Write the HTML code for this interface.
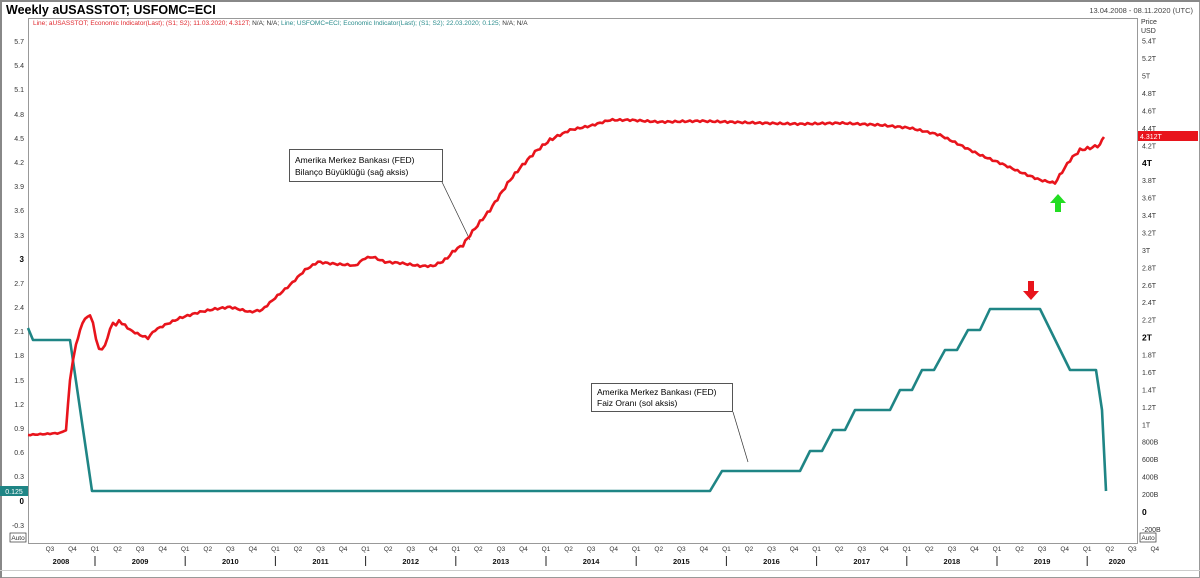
<!DOCTYPE html>
<html><head><meta charset="utf-8"><style>
body{margin:0;background:#fff;}
svg{display:block;font-family:"Liberation Sans",Arial,sans-serif;}
</style></head><body>
<svg width="1200" height="578" viewBox="0 0 1200 578">
<rect x="0" y="0" width="1200" height="578" fill="#fff"/>
<rect x="0.5" y="0.5" width="1199" height="577" fill="none" stroke="#999"/>
<rect x="0" y="0" width="1200" height="2" fill="#888"/>
<rect x="0" y="0" width="2" height="578" fill="#888"/>
<text x="6" y="14" font-size="12.5" font-weight="bold" fill="#000">Weekly aUSASSTOT; USFOMC=ECI</text>
<text x="1193" y="13" font-size="7.5" fill="#444" text-anchor="end">13.04.2008 - 08.11.2020 (UTC)</text>
<rect x="28.5" y="18.5" width="1109" height="525" fill="none" stroke="#999"/>
<text x="33" y="25" font-size="6.5"><tspan fill="#e0282e">Line; aUSASSTOT; Economic Indicator(Last); (S1; S2); 11.03.2020; 4.312T;</tspan><tspan fill="#333"> N/A; N/A; </tspan><tspan fill="#2a8c8c">Line; USFOMC=ECI; Economic Indicator(Last); (S1; S2); 22.03.2020; 0.125;</tspan><tspan fill="#333"> N/A; N/A</tspan></text>
<g font-size="7" fill="#333" text-anchor="end">
<text x="24" y="44">5.7</text><text x="24" y="68">5.4</text><text x="24" y="92">5.1</text><text x="24" y="117">4.8</text><text x="24" y="141">4.5</text><text x="24" y="165">4.2</text><text x="24" y="189">3.9</text><text x="24" y="213">3.6</text><text x="24" y="238">3.3</text><text x="24" y="262" font-weight="bold" font-size="8" fill="#000">3</text><text x="24" y="286">2.7</text><text x="24" y="310">2.4</text><text x="24" y="334">2.1</text><text x="24" y="358">1.8</text><text x="24" y="383">1.5</text><text x="24" y="407">1.2</text><text x="24" y="431">0.9</text><text x="24" y="455">0.6</text><text x="24" y="479">0.3</text><text x="24" y="504" font-weight="bold" font-size="8" fill="#000">0</text><text x="24" y="528">-0.3</text>
</g>
<rect x="10" y="533" width="16" height="9" fill="#fff" stroke="#333" stroke-width="0.7"/>
<text x="18" y="540" font-size="6.5" text-anchor="middle" fill="#333">Auto</text>
<rect x="0" y="486" width="28" height="10" fill="#1f8585"/>
<text x="14" y="494" font-size="7" fill="#fff" text-anchor="middle">0.125</text>
<g font-size="7" fill="#333" id="ra">
<text x="1141" y="24">Price</text><text x="1141" y="33">USD</text>
</g>
<rect x="1138" y="131" width="60" height="10" fill="#e8141c"/>
<text x="1140" y="139" font-size="7" fill="#fff">4.312T</text>
<rect x="1140" y="533" width="16" height="9" fill="#fff" stroke="#333" stroke-width="0.7"/>
<text x="1148" y="540" font-size="6.5" text-anchor="middle" fill="#333">Auto</text>
<g font-size="6.5" fill="#333" text-anchor="middle" id="q"></g>
<g id="bx"></g>
<line x1="442" y1="182" x2="470" y2="240" stroke="#333" stroke-width="0.7"/>
<rect x="289.5" y="149.5" width="153" height="32" fill="#fff" stroke="#555"/>
<text x="295" y="163" font-size="8.5" fill="#000">Amerika Merkez Bankası (FED)</text>
<text x="295" y="175" font-size="8.5" fill="#000">Bilanço Büyüklüğü (sağ aksis)</text>
<line x1="733" y1="412" x2="748" y2="462" stroke="#333" stroke-width="0.7"/>
<rect x="591.5" y="383.5" width="141" height="28" fill="#fff" stroke="#555"/>
<text x="597" y="395" font-size="8.5" fill="#000">Amerika Merkez Bankası (FED)</text>
<text x="597" y="406" font-size="8.5" fill="#000"> Faiz Oranı (sol aksis)</text>
<polyline fill="none" stroke="#1f8585" stroke-width="2.6" stroke-linejoin="round" points="28,328 33,340 70,340 92,491 710,491 722,471 800,471 810,451 822,451 833,430 845,430 855,410 890,410 900,390 912,390 922,370 934,370 945,350 957,350 968,330 980,330 990,309 1040,309 1070,370 1096,370 1102,410 1106,491"/>
<polyline id="red" fill="none" stroke="#e8141c" stroke-width="2.6" stroke-linejoin="round" points=""/>
<polygon points="1058,194 1066,203 1061,203 1061,212 1055,212 1055,203 1050,203" fill="#22dd22"/>
<polygon points="1031,300 1023,291 1028,291 1028,281 1034,281 1034,291 1039,291" fill="#e8141c"/>
<line x1="0" y1="570.5" x2="1200" y2="570.5" stroke="#ccc"/>
</svg>
<script>
var s="http://www.w3.org/2000/svg",q=document.getElementById('q'),b=document.getElementById('bx'),ra=document.getElementById('ra');
function t(g,x,y,txt,a){var e=document.createElementNS(s,'text');e.setAttribute('x',x);e.setAttribute('y',y);for(var k in a)e.setAttribute(k,a[k]);e.textContent=txt;g.appendChild(e);}
for(var i=-1;i<=27;i++){var v=i*0.2,y=512-v*87.2;var lab;if(i==0)lab='0';else if(i<5)lab=(i*200)+'B';else lab=(Math.round(v*10)/10)+'T';if(i==-1)lab='-200B';
if(Math.abs(y-136)<4)continue;var bold=(i==0||i==10||i==20);t(ra,1142,y+(bold?3:2.5),lab,bold?{'font-weight':'bold','font-size':'8.5','fill':'#000'}:{});}
var Y=90.2,X0=95;
for(var yr=2008;yr<=2020;yr++){for(var k=0;k<4;k++){var x=X0+(yr-2009)*Y+k*Y/4;if(x<40||x>1165)continue;t(q,x,551,'Q'+(k+1),{});}
var cx=X0+(yr-2009)*Y+Y/2;if(yr==2008)cx=61;if(yr==2020)cx=1117;t(b,cx,564,yr,{'font-size':'7.5','font-weight':'bold','text-anchor':'middle','fill':'#111'});
if(yr>2008){var l=document.createElementNS(s,'line');var lx=X0+(yr-2009)*Y;l.setAttribute('x1',lx);l.setAttribute('x2',lx);l.setAttribute('y1',556);l.setAttribute('y2',566);l.setAttribute('stroke','#222');b.appendChild(l);}}
var P=[[28,435],[45,434],[60,433],[66,430],[70,380],[73,360],[76,345],[80,330],[85,318],[90,316],[93,322],[96,340],[99,348],[102,350],[105,345],[110,330],[113,322],[116,326],[119,320],[122,324],[125,325],[130,330],[140,335],[148,338],[155,330],[165,325],[180,318],[200,312],[215,309],[230,307],[250,312],[262,310],[275,298],[290,285],[305,270],[318,262],[335,264],[350,265],[355,266],[365,258],[373,257],[385,262],[400,263],[420,266],[433,266],[445,260],[455,250],[463,245],[470,235],[480,222],[490,210],[500,195],[510,180],[520,168],[535,152],[550,140],[570,130],[590,126],[610,120],[630,120],[660,122],[700,121],[730,122],[760,123],[800,124],[840,123],[880,125],[910,128],[940,135],[960,145],[980,155],[1000,163],[1020,172],[1040,180],[1055,183],[1062,172],[1070,160],[1080,150],[1090,148],[1100,145],[1104,137]];
var pts=[];
for(var i=0;i<P.length-1;i++){var a=P[i],c=P[i+1];var n=Math.max(1,Math.round((c[0]-a[0])/2.5));for(var j=0;j<n;j++){var f=j/n,x=a[0]+(c[0]-a[0])*f,y=a[1]+(c[1]-a[1])*f;var w=(x>440&&x<560)||(x>1055)?1.5:0.9;if(x<66)w=0.5;y+=w*Math.sin(x*0.9);pts.push(x.toFixed(1)+','+y.toFixed(1));}}
pts.push('1104,137');
document.getElementById('red').setAttribute('points',pts.join(' '));
</script>
</body></html>
